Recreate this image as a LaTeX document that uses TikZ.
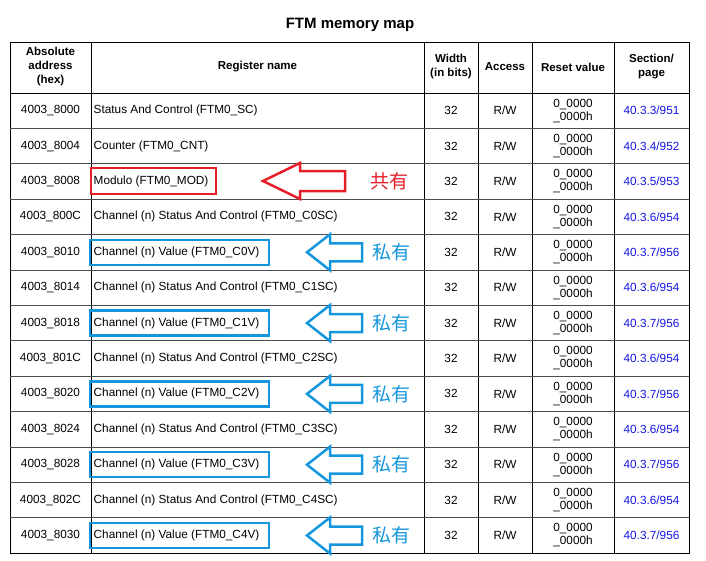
\documentclass[tikz,border=0pt]{standalone}
\usepackage{fontspec}
\setmainfont{Liberation Sans}
\newfontfamily\cjk{Noto Sans CJK SC}
\definecolor{linkblue}{RGB}{20,20,230}
\definecolor{myred}{RGB}{230,30,40}
\definecolor{myblue}{RGB}{20,150,220}
\begin{document}
\begin{tikzpicture}[x=1pt,y=-1pt,
  cell/.style={font=\fontsize{11.8}{13}\selectfont,align=center,inner sep=0pt},
  lcell/.style={font=\fontsize{11.8}{13}\selectfont,anchor=west,inner sep=0pt},
  hcell/.style={font=\bfseries\fontsize{11.5}{14}\selectfont,align=center,inner sep=0pt},
  redbox/.style={draw=myred,line width=2.5pt},
  bluebox/.style={draw=myblue,line width=2.5pt},
  redarrow/.style={draw=myred,line width=2.5pt},
  bluearrow/.style={draw=myblue,line width=2.5pt},
  cjklabel/.style={font=\cjk\fontsize{19}{19}\selectfont}]
\useasboundingbox (0,0) rectangle (706,560);
\node[font=\bfseries\fontsize{15}{17}\selectfont] (title) at (350,25) {FTM memory map};
\draw[line width=0.9pt] (10,42) rectangle (689,553);
\foreach \x in {91,424,478,532,614} \draw[line width=0.9pt] (\x,42) -- (\x,553);
\draw[line width=0.9pt] (10,93) -- (689,93);
\foreach \i in {1,...,12} \draw[line width=0.7pt,black!70] (10,93+\i*35.4) -- (689,93+\i*35.4);
% header
\node[hcell] (h1) at (50.5,67) {Absolute\\address\\(hex)};
\node[hcell] (h2) at (257.5,67) {Register name};
\node[hcell] (h3) at (451,67) {Width\\(in bits)};
\node[hcell] (h4) at (505,67) {Access};
\node[hcell] (h5) at (573,67) {Reset value};
\node[hcell] (h6) at (651.5,67) {Section/\\page};
% rows
\foreach \a/\n/\s [count=\i] in {
 4003\_8000/Status And Control (FTM0\_SC)/40.3.3\slash951,
 4003\_8004/Counter (FTM0\_CNT)/40.3.4\slash952,
 4003\_8008/Modulo (FTM0\_MOD)/40.3.5\slash953,
 4003\_800C/Channel (n) Status And Control (FTM0\_C0SC)/40.3.6\slash954,
 4003\_8010/Channel (n) Value (FTM0\_C0V)/40.3.7\slash956,
 4003\_8014/Channel (n) Status And Control (FTM0\_C1SC)/40.3.6\slash954,
 4003\_8018/Channel (n) Value (FTM0\_C1V)/40.3.7\slash956,
 4003\_801C/Channel (n) Status And Control (FTM0\_C2SC)/40.3.6\slash954,
 4003\_8020/Channel (n) Value (FTM0\_C2V)/40.3.7\slash956,
 4003\_8024/Channel (n) Status And Control (FTM0\_C3SC)/40.3.6\slash954,
 4003\_8028/Channel (n) Value (FTM0\_C3V)/40.3.7\slash956,
 4003\_802C/Channel (n) Status And Control (FTM0\_C4SC)/40.3.6\slash954,
 4003\_8030/Channel (n) Value (FTM0\_C4V)/40.3.7\slash956}{
  \pgfmathsetmacro\yc{93+(\i-0.5)*35.4}
  \node[cell] (a\i) at (50.5,\yc) {\a};
  \node[lcell] (n\i) at (93.5,\yc) {\n};
  \node[cell] (w\i) at (451,\yc) {32};
  \node[cell] (r\i) at (505,\yc) {R/W};
  \node[cell] (v\i) at (573,\yc) {0\_0000\\\_0000h};
  \node[cell,text=linkblue] (s\i) at (651.5,\yc) {\s};
}
% red highlight
\draw[redbox] (91,168) rectangle (216,194);
\draw[redarrow] (263,181) -- (300,163) -- (300,171) -- (345,171) -- (345,191) -- (300,191) -- (300,199) -- cycle;
\node[cjklabel,text=myred] (gy) at (389,181) {共有};
% blue highlights
\foreach \i in {5,7,9,11,13}{
  \pgfmathsetmacro\yc{93+(\i-0.5)*35.4}
  \draw[bluebox] (90,\yc-12.5) rectangle (269,\yc+12.5);
  \draw[bluearrow] (307,\yc) -- (330,\yc-18) -- (330,\yc-9) -- (362,\yc-9) -- (362,\yc+9) -- (330,\yc+9) -- (330,\yc+18) -- cycle;
  \node[cjklabel,text=myblue] at (391,\yc) {私有};
}
\end{tikzpicture}
\end{document}
